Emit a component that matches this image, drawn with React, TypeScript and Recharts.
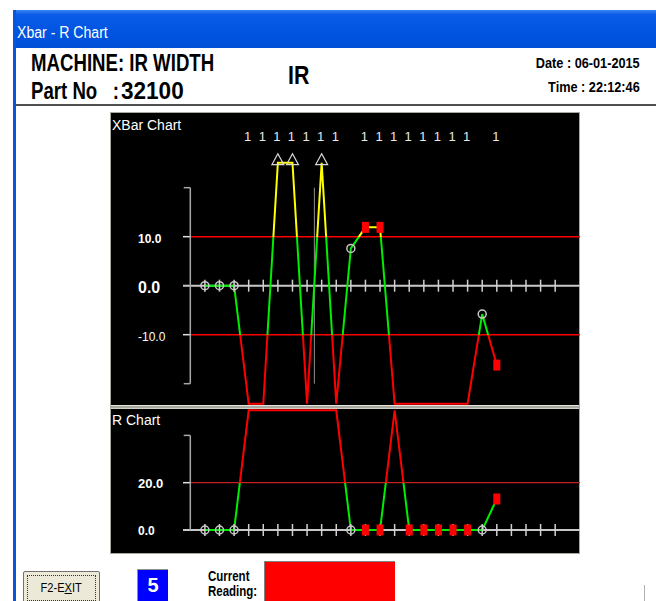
import React from "react";
import { ComposedChart, Line, Scatter, XAxis, YAxis, ReferenceLine } from "recharts";

// subgroup index and plotted values (off-scale points sit on the clamp rows)
const samples = [0, 1, 2, 3, 4, 5, 6, 7, 8, 9, 10, 11, 12, 13, 14, 15, 16, 17, 18, 19, 20];
const xbarValues = [0, 0, 0, -24.1, -24.1, 25.1, 25.1, -24.1, 25.1, -24.1, 7.6, 11.9, 11.9, -24.1, -24.1, -24.1, -24.1, -24.1, -24.1, -5.8, -16.2];
const rangeValues = [0, 0, 0, 50.6, 50.6, 50.6, 50.6, 50.6, 50.6, 50.6, 0, 0, 0, 50.6, 0, 0, 0, 0, 0, 0, 13.1];
// o = in control, s = out of limits, ^ = off scale high, "" = nothing drawn
const xbarMarks = ["o", "o", "o", "", "", "^", "^", "", "^", "", "o", "s", "s", "", "", "", "", "", "", "o", "s"];
const rangeMarks = ["o", "o", "o", "", "", "", "", "", "", "", "o", "s", "s", "", "s", "s", "s", "s", "s", "o", "s"];
const ruleFlags = ["", "", "", "1", "1", "1", "1", "1", "1", "1", "", "1", "1", "1", "1", "1", "1", "1", "1", "", "1"];
const axisSlots = [0, 1, 2, 3, 4, 5, 6, 7, 8, 9, 10, 11, 12, 13, 14, 15, 16, 17, 18, 19, 20, 21, 22, 23, 24];

const xbarTicks = [10, 0, -10];
const rangeTicks = [20, 0];
const xbarUcl = 10;
const xbarLcl = -10;
const rangeUcl = 20;
const xbarBracket = [20, -20];
const rangeBracket = [40, 0];
const cursorAt = 7.5;
const flagLevel = 30.5;

const X_DOMAIN: [number, number] = [-1.5, 25.7];
const BRACKET_X = -1;
const CAP_X = -1.45;
const XBAR_DOMAIN: [number, number] = [-24.35, 35.24];
const RANGE_DOMAIN: [number, number] = [-9.73, 51.16];

const GREEN = "#00ee00";
const YELLOW = "#ffff00";
const RED = "#ff0000";
const SANS = "'Liberation Sans', Arial, sans-serif";

const renderMark = (marks: string[]) => (props: any) => {
  const { cx, cy, index } = props;
  const key = `m-${index}`;
  const m = marks[index];
  if (cx == null || cy == null || !m) return <g key={key} />;
  if (m === "o")
    return <circle key={key} cx={cx} cy={cy} r={4} fill="none" stroke="#c8c8c8" strokeWidth={1.5} />;
  if (m === "s") return <rect key={key} x={cx - 3.5} y={cy - 5.5} width={7} height={11} fill={RED} />;
  return (
    <path
      key={key}
      d={`M${cx - 6},${cy + 2} L${cx},${cy - 9} L${cx + 6},${cy + 2} Z`}
      fill="none"
      stroke="#d8d8d8"
      strokeWidth={1.2}
    />
  );
};

const slotShape = (p: any) => (
  <line x1={p.cx} x2={p.cx} y1={p.cy - 6} y2={p.cy + 6} stroke="#d0d0d0" strokeWidth={1.5} />
);

const flagShape = (p: any) => (
  <text x={p.cx - 1} y={p.cy} dy={5} textAnchor="middle" fill="#e8e8e8" fontSize={13} fontFamily={SANS}>
    {p.payload.t}
  </text>
);

const makeTick = (styles: Record<string, { size: number; weight: string }>, shift: number) => (p: any) => {
  const s = styles[String(p.payload.value)];
  return (
    <text x={28} y={p.y + shift} dominantBaseline="central" fill="#ffffff" fontSize={s.size} fontWeight={s.weight} fontFamily={SANS}>
      {Number(p.payload.value).toFixed(1)}
    </text>
  );
};

const xbarTickStyle = { "10": { size: 12, weight: "bold" }, "0": { size: 16, weight: "bold" }, "-10": { size: 12, weight: "normal" } };
const rangeTickStyle = { "20": { size: 13, weight: "bold" }, "0": { size: 12, weight: "bold" } };

function Bracket({ top, bottom, caps }: { top: number; bottom: number; caps: number[] }) {
  return (
    <>
      <ReferenceLine segment={[{ x: BRACKET_X, y: top }, { x: BRACKET_X, y: bottom }]} stroke="#a8a8a8" strokeWidth={1.5} ifOverflow="visible" />
      {caps.map((c) => (
        <ReferenceLine key={c} segment={[{ x: CAP_X, y: c }, { x: BRACKET_X, y: c }]} stroke="#a8a8a8" strokeWidth={1.5} ifOverflow="visible" />
      ))}
    </>
  );
}

function XbarPanel() {
  const rows = samples.map((i) => ({ i, v: xbarValues[i] }));
  const hi = Math.max(...xbarValues);
  const lo = Math.min(...xbarValues);
  const oU = (hi - xbarUcl) / (hi - lo);
  const oL = (hi - xbarLcl) / (hi - lo);
  const flagRows = samples.filter((i) => ruleFlags[i]).map((i) => ({ i, v: flagLevel, t: ruleFlags[i] }));
  const slotRows = axisSlots.map((i) => ({ i, v: 0 }));
  return (
    <ComposedChart width={470} height={292} data={rows} margin={{ top: 0, right: 0, bottom: 0, left: 0 }}>
      <defs>
        <linearGradient id="xbarStroke" x1="0" y1="0" x2="0" y2="1">
          <stop offset={0} stopColor={YELLOW} />
          <stop offset={oU} stopColor={YELLOW} />
          <stop offset={oU} stopColor={GREEN} />
          <stop offset={oL} stopColor={GREEN} />
          <stop offset={oL} stopColor={RED} />
          <stop offset={1} stopColor={RED} />
        </linearGradient>
      </defs>
      <XAxis type="number" dataKey="i" domain={X_DOMAIN} hide allowDataOverflow />
      <YAxis type="number" domain={XBAR_DOMAIN} ticks={xbarTicks} interval={0} width={73} axisLine={false} tickLine={false} allowDataOverflow tick={makeTick(xbarTickStyle, 2)} />
      <ReferenceLine y={0} stroke="#c8c8c8" strokeWidth={2} />
      {[xbarUcl, xbarLcl].map((l) => (
        <ReferenceLine key={`r${l}`} segment={[{ x: BRACKET_X, y: l }, { x: X_DOMAIN[1], y: l }]} stroke={RED} strokeWidth={1.4} ifOverflow="visible" />
      ))}
      {[xbarUcl, xbarLcl].map((l) => (
        <ReferenceLine key={`t${l}`} segment={[{ x: X_DOMAIN[0], y: l }, { x: BRACKET_X, y: l }]} stroke="#e0e0e0" strokeWidth={1.5} ifOverflow="visible" />
      ))}
      {Bracket({ top: xbarBracket[0], bottom: xbarBracket[1], caps: xbarBracket })}
      <ReferenceLine segment={[{ x: cursorAt, y: xbarBracket[0] }, { x: cursorAt, y: xbarBracket[1] }]} stroke="#909090" strokeWidth={1} ifOverflow="visible" />
      <Scatter data={slotRows} dataKey="v" shape={slotShape} isAnimationActive={false} />
      <Line type="linear" dataKey="v" stroke="url(#xbarStroke)" strokeWidth={2} dot={renderMark(xbarMarks)} activeDot={false} isAnimationActive={false} />
      <Scatter data={flagRows} dataKey="v" shape={flagShape} isAnimationActive={false} />
    </ComposedChart>
  );
}

function RangePanel() {
  const rows = samples.map((i) => ({ i, v: rangeValues[i] }));
  const hi = Math.max(...rangeValues);
  const lo = Math.min(...rangeValues);
  const oU = (hi - rangeUcl) / (hi - lo);
  const slotRows = axisSlots.map((i) => ({ i, v: 0 }));
  return (
    <ComposedChart width={470} height={144} data={rows} margin={{ top: 0, right: 0, bottom: 0, left: 0 }}>
      <defs>
        <linearGradient id="rangeStroke" x1="0" y1="0" x2="0" y2="1">
          <stop offset={0} stopColor={RED} />
          <stop offset={oU} stopColor={RED} />
          <stop offset={oU} stopColor={GREEN} />
          <stop offset={1} stopColor={GREEN} />
        </linearGradient>
      </defs>
      <XAxis type="number" dataKey="i" domain={X_DOMAIN} hide allowDataOverflow />
      <YAxis type="number" domain={RANGE_DOMAIN} ticks={rangeTicks} interval={0} width={73} axisLine={false} tickLine={false} allowDataOverflow tick={makeTick(rangeTickStyle, 1)} />
      <ReferenceLine y={0} stroke="#c8c8c8" strokeWidth={2} />
      <ReferenceLine segment={[{ x: BRACKET_X, y: rangeUcl }, { x: X_DOMAIN[1], y: rangeUcl }]} stroke="#c42020" strokeWidth={1.2} ifOverflow="visible" />
      <ReferenceLine segment={[{ x: X_DOMAIN[0], y: rangeUcl }, { x: BRACKET_X, y: rangeUcl }]} stroke="#e0e0e0" strokeWidth={1.5} ifOverflow="visible" />
      {Bracket({ top: rangeBracket[0], bottom: rangeBracket[1], caps: [rangeBracket[0]] })}
      <Scatter data={slotRows} dataKey="v" shape={slotShape} isAnimationActive={false} />
      <Line type="linear" dataKey="v" stroke="url(#rangeStroke)" strokeWidth={2} dot={renderMark(rangeMarks)} activeDot={false} isAnimationActive={false} />
    </ComposedChart>
  );
}

const abs = (left: number, top: number, extra: React.CSSProperties = {}): React.CSSProperties => ({
  position: "absolute",
  left,
  top,
  ...extra,
});

// condensed text: Liberation Sans squeezed horizontally
function Narrow({ children, scale = 0.82, origin = "left top", style }: { children: React.ReactNode; scale?: number; origin?: string; style?: React.CSSProperties }) {
  return (
    <span style={{ display: "inline-block", whiteSpace: "pre", transform: `scaleX(${scale})`, transformOrigin: origin, ...style }}>
      {children}
    </span>
  );
}

export default function App() {
  return (
    <div style={{ position: "absolute", left: 0, top: 0, width: 656, height: 601, background: "#fff", overflow: "hidden", fontFamily: SANS }}>
      {/* window frame */}
      <div style={abs(13, 10, { width: 643, height: 38, background: "linear-gradient(#3c86f4 0%, #0a5ce6 12%, #0054e0 60%, #0050d8 100%)" })} />
      <div style={abs(13, 10, { width: 3, height: 591, background: "#0a54e0" })} />
      <div style={abs(17, 24, { color: "#fff", fontSize: 16, lineHeight: "18px" })}>
        <Narrow scale={0.88}>Xbar - R Chart</Narrow>
      </div>

      {/* header */}
      <div style={abs(31, 50, { fontSize: 23, fontWeight: "bold", lineHeight: "26px" })}>
        <Narrow scale={0.81}>MACHINE: IR WIDTH</Narrow>
      </div>
      <div style={abs(31, 78, { fontSize: 23, fontWeight: "bold", lineHeight: "26px" })}>
        <Narrow scale={0.81}>Part No   :</Narrow>
      </div>
      <div style={abs(121, 78, { fontSize: 23, fontWeight: "bold", lineHeight: "26px" })}>
        <Narrow scale={0.98}>32100</Narrow>
      </div>
      <div style={abs(288, 61, { fontSize: 26, fontWeight: "bold", lineHeight: "28px" })}>
        <Narrow scale={0.82}>IR</Narrow>
      </div>
      <div style={{ position: "absolute", right: 16, top: 53, fontSize: 15.5, fontWeight: "bold", lineHeight: "20px" }}>
        <Narrow origin="right top">Date : 06-01-2015</Narrow>
      </div>
      <div style={{ position: "absolute", right: 16, top: 77, fontSize: 15.5, fontWeight: "bold", lineHeight: "20px" }}>
        <Narrow origin="right top">Time : 22:12:46</Narrow>
      </div>
      <div style={abs(16, 104, { width: 640, height: 2, background: "#505050" })} />

      {/* chart panel */}
      <div style={abs(110, 112, { width: 468, height: 440, background: "#000", border: "1px solid #a8a8a0" })} />
      <div style={abs(110, 113)}>
        <XbarPanel />
      </div>
      <div style={abs(111, 405, { width: 468, height: 4, background: "#a8a8a0", borderTop: "1px solid #e4e4dc", borderBottom: "1px solid #d0d0c8", boxSizing: "border-box" })} />
      <div style={abs(110, 409)}>
        <RangePanel />
      </div>
      <div style={abs(112, 117, { color: "#fff", fontSize: 14, lineHeight: "16px" })}>XBar Chart</div>
      <div style={abs(112, 412, { color: "#fff", fontSize: 14, lineHeight: "16px" })}>R Chart</div>

      {/* bottom controls */}
      <div style={abs(23, 571, { width: 77, height: 34, background: "#ece9d8", border: "1px solid #707070", borderRadius: 2, boxSizing: "border-box" })}>
        <div style={{ position: "absolute", left: 3, top: 3, right: 3, bottom: 3, border: "1px dotted #333" }} />
        <div style={{ position: "absolute", left: 0, right: 0, top: 8, textAlign: "center", fontSize: 13.5, lineHeight: "16px" }}>
          <Narrow origin="center top">
            F2-E<u>X</u>IT
          </Narrow>
        </div>
      </div>
      <div style={abs(137, 569, { width: 31, height: 34, background: "#0000ff", borderTop: "1px solid #909090", borderLeft: "1px solid #909090", boxSizing: "border-box", color: "#fff", fontWeight: "bold", fontSize: 20, textAlign: "center", lineHeight: "30px" })}>
        5
      </div>
      <div style={abs(208, 569, { fontSize: 14, fontWeight: "bold", lineHeight: "15px" })}>
        <Narrow>Current</Narrow>
        <br />
        <Narrow>Reading:</Narrow>
      </div>
      <div style={abs(264, 561, { width: 131, height: 45, background: "#ff0000", borderTop: "1px solid #808080", borderLeft: "1px solid #808080", boxSizing: "border-box" })} />
      <div style={abs(644, 585, { width: 1, height: 16, background: "#b0b0b0" })} />
    </div>
  );
}
